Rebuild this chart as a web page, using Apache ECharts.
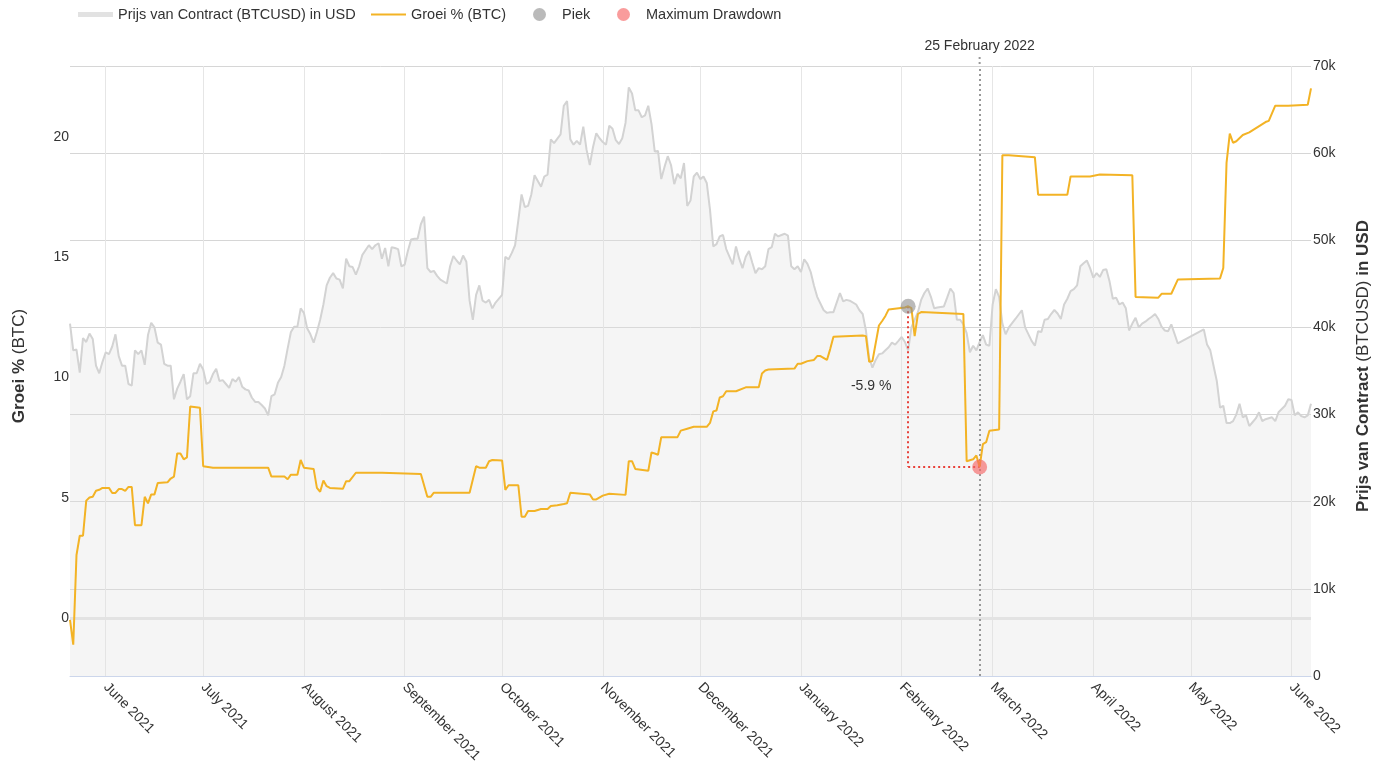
<!DOCTYPE html>
<html><head><meta charset="utf-8">
<script src="https://cdn.jsdelivr.net/npm/echarts@6/dist/echarts.min.js"></script>
<style>html,body{margin:0;padding:0;background:#fff}#c{width:1381px;height:766px}</style>
</head><body><div id="c"></div>
<script>
const priceName = 'Prijs van Contract (BTCUSD) in USD';
const growthName = 'Groei % (BTC)';
const priceDates = ['2021-05-21','2021-05-22','2021-05-23','2021-05-24','2021-05-25','2021-05-26','2021-05-27','2021-05-28','2021-05-29','2021-05-30','2021-05-31','2021-06-01','2021-06-02','2021-06-03','2021-06-04','2021-06-05','2021-06-06','2021-06-07','2021-06-08','2021-06-09','2021-06-10','2021-06-11','2021-06-12','2021-06-13','2021-06-14','2021-06-15','2021-06-16','2021-06-17','2021-06-18','2021-06-19','2021-06-20','2021-06-21','2021-06-22','2021-06-23','2021-06-24','2021-06-25','2021-06-26','2021-06-27','2021-06-28','2021-06-29','2021-06-30','2021-07-01','2021-07-02','2021-07-03','2021-07-04','2021-07-05','2021-07-06','2021-07-07','2021-07-08','2021-07-09','2021-07-10','2021-07-11','2021-07-12','2021-07-13','2021-07-14','2021-07-15','2021-07-16','2021-07-17','2021-07-18','2021-07-19','2021-07-20','2021-07-21','2021-07-22','2021-07-23','2021-07-24','2021-07-25','2021-07-26','2021-07-27','2021-07-28','2021-07-29','2021-07-30','2021-07-31','2021-08-01','2021-08-02','2021-08-03','2021-08-04','2021-08-05','2021-08-06','2021-08-07','2021-08-08','2021-08-09','2021-08-10','2021-08-11','2021-08-12','2021-08-13','2021-08-14','2021-08-15','2021-08-16','2021-08-17','2021-08-18','2021-08-19','2021-08-21','2021-08-22','2021-08-23','2021-08-24','2021-08-25','2021-08-26','2021-08-27','2021-08-28','2021-08-29','2021-08-30','2021-08-31','2021-09-01','2021-09-02','2021-09-03','2021-09-04','2021-09-05','2021-09-06','2021-09-07','2021-09-08','2021-09-09','2021-09-10','2021-09-11','2021-09-12','2021-09-14','2021-09-15','2021-09-16','2021-09-17','2021-09-18','2021-09-19','2021-09-20','2021-09-21','2021-09-22','2021-09-23','2021-09-24','2021-09-25','2021-09-26','2021-09-27','2021-09-28','2021-09-29','2021-10-01','2021-10-02','2021-10-03','2021-10-04','2021-10-05','2021-10-06','2021-10-07','2021-10-08','2021-10-09','2021-10-10','2021-10-11','2021-10-13','2021-10-14','2021-10-15','2021-10-16','2021-10-17','2021-10-19','2021-10-20','2021-10-21','2021-10-22','2021-10-23','2021-10-24','2021-10-25','2021-10-26','2021-10-27','2021-10-28','2021-10-29','2021-10-30','2021-10-31','2021-11-01','2021-11-02','2021-11-03','2021-11-04','2021-11-05','2021-11-06','2021-11-07','2021-11-08','2021-11-09','2021-11-10','2021-11-11','2021-11-12','2021-11-13','2021-11-14','2021-11-15','2021-11-16','2021-11-17','2021-11-18','2021-11-19','2021-11-20','2021-11-21','2021-11-22','2021-11-23','2021-11-24','2021-11-25','2021-11-26','2021-11-27','2021-11-28','2021-11-29','2021-11-30','2021-12-01','2021-12-02','2021-12-03','2021-12-04','2021-12-05','2021-12-06','2021-12-07','2021-12-08','2021-12-09','2021-12-11','2021-12-12','2021-12-13','2021-12-14','2021-12-15','2021-12-16','2021-12-17','2021-12-18','2021-12-19','2021-12-20','2021-12-21','2021-12-22','2021-12-23','2021-12-24','2021-12-25','2021-12-26','2021-12-27','2021-12-28','2021-12-29','2021-12-30','2021-12-31','2022-01-01','2022-01-02','2022-01-03','2022-01-04','2022-01-05','2022-01-06','2022-01-08','2022-01-09','2022-01-10','2022-01-11','2022-01-12','2022-01-13','2022-01-14','2022-01-15','2022-01-16','2022-01-18','2022-01-19','2022-01-20','2022-01-21','2022-01-22','2022-01-23','2022-01-24','2022-01-25','2022-01-26','2022-01-27','2022-01-28','2022-01-29','2022-01-30','2022-01-31','2022-02-01','2022-02-02','2022-02-03','2022-02-04','2022-02-05','2022-02-06','2022-02-07','2022-02-08','2022-02-09','2022-02-10','2022-02-11','2022-02-12','2022-02-14','2022-02-15','2022-02-16','2022-02-17','2022-02-18','2022-02-19','2022-02-20','2022-02-21','2022-02-22','2022-02-23','2022-02-24','2022-02-25','2022-02-26','2022-02-27','2022-02-28','2022-03-01','2022-03-02','2022-03-03','2022-03-04','2022-03-05','2022-03-06','2022-03-08','2022-03-10','2022-03-11','2022-03-13','2022-03-14','2022-03-15','2022-03-16','2022-03-17','2022-03-18','2022-03-19','2022-03-20','2022-03-21','2022-03-22','2022-03-23','2022-03-24','2022-03-25','2022-03-26','2022-03-27','2022-03-28','2022-03-29','2022-03-30','2022-03-31','2022-04-01','2022-04-02','2022-04-03','2022-04-04','2022-04-05','2022-04-06','2022-04-07','2022-04-08','2022-04-09','2022-04-10','2022-04-11','2022-04-12','2022-04-13','2022-04-14','2022-04-15','2022-04-16','2022-04-17','2022-04-18','2022-04-19','2022-04-20','2022-04-21','2022-04-22','2022-04-23','2022-04-24','2022-04-25','2022-04-27','2022-05-05','2022-05-06','2022-05-07','2022-05-08','2022-05-09','2022-05-10','2022-05-11','2022-05-12','2022-05-13','2022-05-14','2022-05-15','2022-05-16','2022-05-17','2022-05-18','2022-05-19','2022-05-20','2022-05-21','2022-05-22','2022-05-23','2022-05-24','2022-05-26','2022-05-27','2022-05-28','2022-05-30','2022-05-31','2022-06-01','2022-06-02','2022-06-03','2022-06-04','2022-06-05','2022-06-06','2022-06-07'];
const priceValues = [40440,37370,37460,34820,38770,38330,39300,38680,35610,34740,36050,37150,36930,37810,39210,36710,35610,35610,33510,33330,37370,36930,37370,35700,39120,40530,40000,38250,38030,35830,35610,35610,31750,32980,33770,34650,31750,32110,34740,34740,35830,35180,33510,33730,34650,35260,33860,33950,33510,33070,34080,33770,34300,33200,32890,32760,31930,31450,31450,31100,30700,29910,32110,32330,33640,34300,35610,37590,39470,40090,40090,42190,41670,39910,39210,38250,39470,40880,42630,44820,45700,46230,45610,45480,44470,47890,47020,46930,46050,47020,48330,49430,48990,49430,49650,47890,49120,47020,49210,49120,48990,47020,47190,48770,50090,50180,50180,51840,52720,46800,46360,46490,45920,45480,45040,47020,48200,47680,47240,48250,47540,43070,40880,43730,44820,43070,42850,43160,42190,42850,43730,48110,47810,48550,49430,52280,55260,53820,53950,55260,57460,56140,57320,57540,61580,61140,62150,65440,65970,61580,60970,61400,60970,63030,60400,58640,60700,62280,61710,61270,60970,63160,62810,61490,61050,61710,63470,67540,66840,64910,64910,64120,64340,65440,63330,60180,60260,57020,58420,59650,58640,56450,57630,57110,58860,53950,54560,57320,57760,57020,57320,56580,53510,49300,49560,50440,50610,48990,47240,49300,47890,46800,48110,48770,47460,46230,46800,46670,47020,48990,49210,50750,50440,50610,50750,50530,47020,46670,47020,46360,47810,47300,46360,44820,43510,41970,41670,41750,41750,42850,43950,42980,43160,43070,42630,41970,41540,39650,36490,35390,36270,36930,37020,37370,37720,38250,38030,38460,38900,38330,37370,40000,40880,41750,43160,43950,44470,43510,42190,42280,42410,43420,44470,43950,40880,40880,40350,39340,37150,37900,37370,38330,39120,38030,37900,42630,44390,43510,40440,39210,40000,40970,41970,40000,38460,37900,39560,39470,40880,40970,41540,42000,41600,40970,42630,43290,44170,44390,44820,47020,47370,47680,46800,45700,46230,45790,46580,46670,45260,43290,43420,42630,42850,42190,39650,40440,41100,40000,40440,40660,40970,41230,41540,40970,40090,39650,39560,40350,38160,39780,38030,37370,35610,33860,30800,31010,29030,29030,29250,30000,31230,29690,29910,28680,29120,29560,30260,29250,29470,29690,29250,30260,31010,31750,31670,29910,30260,29820,29690,29910,31230];
const growthDates = ['2021-05-21','2021-05-22','2021-05-23','2021-05-24','2021-05-25','2021-05-26','2021-05-27','2021-05-28','2021-05-29','2021-05-30','2021-05-31','2021-06-02','2021-06-03','2021-06-04','2021-06-05','2021-06-06','2021-06-07','2021-06-08','2021-06-09','2021-06-10','2021-06-12','2021-06-13','2021-06-14','2021-06-15','2021-06-16','2021-06-17','2021-06-20','2021-06-21','2021-06-22','2021-06-23','2021-06-24','2021-06-25','2021-06-26','2021-06-27','2021-06-30','2021-07-01','2021-07-04','2021-07-21','2021-07-22','2021-07-26','2021-07-27','2021-07-28','2021-07-30','2021-07-31','2021-08-01','2021-08-04','2021-08-05','2021-08-06','2021-08-07','2021-08-08','2021-08-09','2021-08-13','2021-08-14','2021-08-15','2021-08-17','2021-08-25','2021-09-06','2021-09-08','2021-09-09','2021-09-10','2021-09-21','2021-09-23','2021-09-24','2021-09-26','2021-09-27','2021-09-28','2021-10-01','2021-10-02','2021-10-03','2021-10-06','2021-10-07','2021-10-08','2021-10-09','2021-10-11','2021-10-13','2021-10-15','2021-10-16','2021-10-18','2021-10-20','2021-10-21','2021-10-22','2021-10-28','2021-10-29','2021-10-30','2021-11-01','2021-11-03','2021-11-08','2021-11-09','2021-11-10','2021-11-11','2021-11-15','2021-11-16','2021-11-17','2021-11-18','2021-11-19','2021-11-24','2021-11-25','2021-11-27','2021-11-29','2021-12-03','2021-12-04','2021-12-05','2021-12-06','2021-12-07','2021-12-08','2021-12-09','2021-12-12','2021-12-15','2021-12-19','2021-12-20','2021-12-21','2021-12-22','2021-12-30','2021-12-31','2022-01-01','2022-01-03','2022-01-05','2022-01-06','2022-01-07','2022-01-09','2022-01-10','2022-01-11','2022-01-20','2022-01-21','2022-01-22','2022-01-23','2022-01-25','2022-01-26','2022-01-27','2022-01-28','2022-02-02','2022-02-03','2022-02-04','2022-02-05','2022-02-06','2022-02-07','2022-02-20','2022-02-21','2022-02-23','2022-02-24','2022-02-25','2022-02-26','2022-02-27','2022-02-28','2022-03-03','2022-03-04','2022-03-06','2022-03-14','2022-03-15','2022-03-24','2022-03-25','2022-03-31','2022-04-03','2022-04-13','2022-04-14','2022-04-21','2022-04-22','2022-04-25','2022-04-27','2022-05-10','2022-05-11','2022-05-12','2022-05-13','2022-05-14','2022-05-15','2022-05-17','2022-05-19','2022-05-24','2022-05-25','2022-05-27','2022-05-31','2022-06-06','2022-06-07'];
const growthValues = [-0.08,-1.11,2.62,3.42,3.42,4.88,5.01,5.04,5.29,5.33,5.41,5.41,5.20,5.20,5.36,5.36,5.29,5.45,5.45,3.86,3.86,5.04,4.77,5.14,5.14,5.61,5.64,5.80,5.88,6.84,6.84,6.60,6.68,8.79,8.74,6.31,6.25,6.25,5.88,5.88,5.77,5.96,5.96,6.57,6.25,6.20,5.41,5.25,5.72,5.48,5.41,5.37,5.69,5.69,6.04,6.04,5.99,5.04,5.04,5.21,5.21,6.31,6.25,6.25,6.52,6.57,6.55,5.33,5.52,5.52,4.21,4.21,4.45,4.45,4.53,4.53,4.66,4.69,4.74,4.77,5.21,5.14,4.93,4.93,5.09,5.17,5.12,6.52,6.52,6.20,6.12,6.88,6.84,6.79,7.52,7.52,7.79,7.87,7.95,7.95,8.11,8.59,8.63,9.17,9.22,9.43,9.43,9.59,9.59,10.17,10.29,10.33,10.37,10.57,10.57,10.68,10.73,10.89,10.89,10.73,11.18,11.69,11.75,11.72,10.65,10.68,12.16,12.35,12.56,12.83,12.91,12.96,12.88,11.72,12.64,12.72,12.64,6.52,6.60,6.76,6.28,7.23,7.31,7.79,7.84,19.24,19.24,19.16,17.60,17.60,18.36,18.36,18.44,18.41,13.35,13.32,13.48,13.48,14.07,14.12,14.55,18.92,20.14,19.76,19.82,20.08,20.19,20.62,20.67,21.30,21.30,21.34,22.02];
const monthTicks = ['2021-06-01','2021-07-01','2021-08-01','2021-09-01','2021-10-01','2021-11-01','2021-12-01','2022-01-01','2022-02-01','2022-03-01','2022-04-01','2022-05-01','2022-06-01'];
const monthNames = ['January','February','March','April','May','June','July','August','September','October','November','December'];
const leftTicks = [0, 5, 10, 15, 20];
const peakDate = '2022-02-03', peakValue = 12.96;
const troughDate = '2022-02-25', troughValue = 6.28;
const markerDate = '2022-02-25', markerLabel = '25 February 2022';
const xMin = '2021-05-21', xMax = '2022-06-07';

function ts(s){ const p = s.split('-').map(Number); return new Date(p[0], p[1]-1, p[2]).getTime(); }
const FONT = '"Liberation Sans", Arial, sans-serif';
const ORANGE = '#f3b325';
const ddText = (((1 + troughValue/100) / (1 + peakValue/100) - 1) * 100).toFixed(1) + ' %';
const tickTs = monthTicks.map(ts);

function legendAt(left, item) {
  return {left: left, top: 7, itemWidth: 35, itemHeight: 13, padding: 0, selectedMode: false,
    textStyle: {fontSize: 14.5, color: '#333', fontFamily: FONT}, data: [item]};
}
const titleRich = {
  b: {fontWeight: 'bold', fontSize: 17, color: '#333', fontFamily: FONT},
  n: {fontSize: 17, color: '#333', fontFamily: FONT}
};

const chart = echarts.init(document.getElementById('c'), null, {renderer: 'canvas'});
chart.setOption({
  animation: false,
  textStyle: {fontFamily: FONT},
  legend: [
    legendAt(78, {name: priceName, icon: 'path://M0,0H35V5H0Z', itemStyle: {color: '#e2e2e2'}}),
    legendAt(371, {name: growthName, icon: 'path://M0,0H35V2H0Z', itemStyle: {color: ORANGE}}),
    legendAt(533, {name: 'Piek', icon: 'circle'}),
    legendAt(617, {name: 'Maximum Drawdown', icon: 'circle'})
  ],
  grid: {left: 70, right: 70, top: 66, bottom: 90},
  xAxis: {
    type: 'value', min: ts(xMin), max: ts(xMax),
    axisLine: {onZero: false, lineStyle: {color: '#ccd6eb', width: 1}},
    axisTick: {show: false, customValues: tickTs},
    axisLabel: {
      customValues: tickTs, rotate: -45, margin: 9, fontSize: 14, color: '#333', fontFamily: FONT,
      formatter: v => { const d = new Date(v); return monthNames[d.getMonth()] + ' ' + d.getFullYear(); }
    },
    splitLine: {show: true, lineStyle: {color: '#e6e6e6', width: 1}}
  },
  yAxis: [
    {
      type: 'value', position: 'left', min: -2.41, max: 22.95,
      axisLine: {show: false}, axisTick: {show: false}, splitLine: {show: false},
      axisLabel: {customValues: leftTicks, fontSize: 14, color: '#333', margin: 1, fontFamily: FONT},
      name: '{b|Groei %} {n|(BTC)}', nameLocation: 'middle', nameRotate: 90, nameGap: 42,
      nameTextStyle: {fontSize: 17, color: '#333', fontFamily: FONT, padding: [0, 0, 0, 10], rich: titleRich}
    },
    {
      type: 'value', position: 'right', min: 0, max: 70000, interval: 10000,
      axisLine: {show: false}, axisTick: {show: false},
      splitLine: {show: true, lineStyle: {color: '#d6d6d6', width: 1}},
      axisLabel: {fontSize: 14, color: '#333', margin: 2, fontFamily: FONT, formatter: v => v === 0 ? '0' : (v/1000) + 'k'},
      name: '{b|Prijs van Contract} {n|(BTCUSD)} {b|in USD}', nameLocation: 'middle', nameRotate: 90, nameGap: 44,
      nameTextStyle: {fontSize: 17, color: '#333', fontFamily: FONT, padding: [0, 0, 0, 10], rich: titleRich}
    }
  ],
  series: [
    {
      name: priceName, type: 'line', yAxisIndex: 1, symbol: 'none', z: 1,
      data: priceDates.map((d, i) => [ts(d), priceValues[i]]),
      lineStyle: {color: '#d3d3d3', width: 2}, itemStyle: {color: '#d3d3d3'},
      areaStyle: {color: 'rgba(225,225,225,0.45)'}
    },
    {
      name: 'zero', type: 'line', yAxisIndex: 0, data: [], z: 2, symbol: 'none',
      markLine: {silent: true, symbol: 'none', label: {show: false},
        lineStyle: {color: '#e3e3e3', width: 3, type: 'solid'}, data: [{yAxis: 0}]}
    },
    {
      name: growthName, type: 'line', yAxisIndex: 0, symbol: 'none', z: 5,
      data: growthDates.map((d, i) => [ts(d), growthValues[i]]),
      lineStyle: {color: ORANGE, width: 2}, itemStyle: {color: ORANGE},
      markLine: {
        silent: true, symbol: 'none', label: {show: false},
        lineStyle: {color: '#e8413a', width: 2, type: [2, 3]},
        data: [
          {xAxis: ts(markerDate), lineStyle: {color: '#999', width: 2, type: [2, 3]},
           label: {show: true, position: 'end', formatter: markerLabel, color: '#333', fontSize: 14, distance: 13, fontFamily: FONT}},
          [{coord: [ts(peakDate), peakValue]}, {coord: [ts(peakDate), troughValue]}],
          [{coord: [ts(peakDate), troughValue]}, {coord: [ts(troughDate), troughValue]}]
        ]
      }
    },
    {
      name: 'Piek', type: 'scatter', yAxisIndex: 0, z: 6, symbolSize: 15,
      data: [[ts(peakDate), peakValue]], itemStyle: {color: 'rgba(140,140,140,0.75)'}
    },
    {
      name: 'Maximum Drawdown', type: 'scatter', yAxisIndex: 0, z: 6, symbolSize: 15,
      data: [[ts(troughDate), troughValue]], itemStyle: {color: 'rgba(245,100,100,0.8)'},
      markPoint: {symbol: 'circle', symbolSize: 0, silent: true,
        label: {show: true, formatter: ddText, color: '#333', fontSize: 14, offset: [-37, 0], fontFamily: FONT},
        data: [{coord: [ts(peakDate), (peakValue + troughValue) / 2]}]}
    }
  ]
});
// extend the date marker line a little above the plot, as in the reference
const mx = chart.convertToPixel({xAxisIndex: 0}, ts(markerDate));
const topY = chart.convertToPixel({yAxisIndex: 1}, 70000);
chart.setOption({graphic: [{type: 'line', silent: true, z: 10,
  shape: {x1: mx, y1: topY - 9, x2: mx, y2: topY},
  style: {stroke: '#999', lineWidth: 2, lineDash: [2, 3]}}]});
</script></body></html>
